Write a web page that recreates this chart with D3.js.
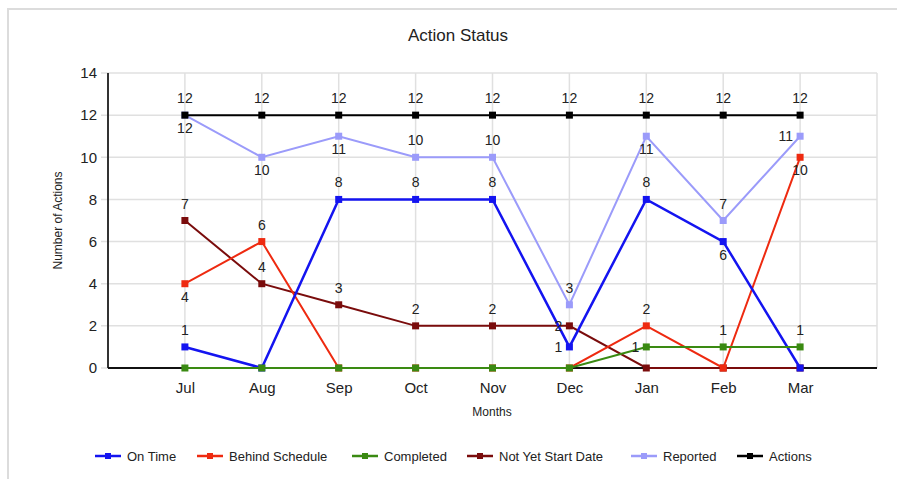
<!DOCTYPE html>
<html>
<head>
<meta charset="utf-8">
<script src="https://cdn.jsdelivr.net/npm/d3@7"></script>
<style>
  body { margin: 0; background: #fff; font-family: "Liberation Sans", Arial, sans-serif; }
  svg text { fill: #222; }
</style>
</head>
<body>
<div id="chart"></div>
<script>
// data
var months = ['Jul', 'Aug', 'Sep', 'Oct', 'Nov', 'Dec', 'Jan', 'Feb', 'Mar'];
var yTicks = [0, 2, 4, 6, 8, 10, 12, 14];

var onTime         = [1, 0, 8, 8, 8, 1, 8, 6, 0];
var behindSchedule = [4, 6, 0, 0, 0, 0, 2, 0, 10];
var completed      = [0, 0, 0, 0, 0, 0, 1, 1, 1];
var notYetStarted  = [7, 4, 3, 2, 2, 2, 0, 0, 0];
var reported       = [12, 10, 11, 10, 10, 3, 11, 7, 11];
var actions        = [12, 12, 12, 12, 12, 12, 12, 12, 12];

// where each data label sits: t = above, b = below, l = left
var onTimeLabels    = ['t', '', 't', 't', 't', 'l', 't', 'b', ''];
var behindLabels    = ['b', 't', '', '', '', '', 't', '', 'b'];
var completedLabels = ['', '', '', '', '', '', 'l', 't', 't'];
var notYetLabels    = ['t', 't', 't', 't', 't', 'l', '', '', ''];
var reportedLabels  = ['b', 'b', 'b', 't', 't', 't', 'b', 't', 'l'];
var actionsLabels   = ['t', 't', 't', 't', 't', 't', 't', 't', 't'];

var series = [
    {name: 'On Time', values: onTime, labels: onTimeLabels, color: '#1414f0', width: 2.5},
    {name: 'Behind Schedule', values: behindSchedule, labels: behindLabels, color: '#ee2a10', width: 2},
    {name: 'Completed', values: completed, labels: completedLabels, color: '#3a8a12', width: 2},
    {name: 'Not Yet Start Date', values: notYetStarted, labels: notYetLabels, color: '#7a0c0c', width: 2},
    {name: 'Reported', values: reported, labels: reportedLabels, color: '#9b9bfa', width: 2},
    {name: 'Actions', values: actions, labels: actionsLabels, color: '#000000', width: 2}
];
// draw order: the reference puts the flat/low lines underneath
var drawOrder = ['Reported', 'Not Yet Start Date', 'Behind Schedule', 'On Time', 'Completed', 'Actions'];

var W = 897, H = 479;
var margin = {top: 73, right: 20, bottom: 111, left: 108};
var width = W - margin.left - margin.right,
    height = H - margin.top - margin.bottom;

var svg = d3.select('#chart').append('svg')
    .attr('width', W)
    .attr('height', H);

// outer frame (only top and left edges are visible in the crop)
svg.append('path')
    .attr('d', 'M8,' + H + 'V9H' + W)
    .attr('fill', 'none')
    .attr('stroke', '#dcdcdc')
    .attr('stroke-width', 2);

svg.append('text')
    .attr('x', 458)
    .attr('y', 41)
    .attr('text-anchor', 'middle')
    .attr('font-size', '17px')
    .text('Action Status');

var g = svg.append('g')
    .attr('transform', 'translate(' + margin.left + ',' + margin.top + ')');

var x = d3.scaleLinear()
    .domain([-1, months.length])
    .range([0, width]);

var y = d3.scaleLinear()
    .domain([0, 14])
    .range([height, 0]);

// grid
g.append('g')
    .selectAll('line')
    .data(yTicks)
    .enter().append('line')
    .attr('x1', -7)
    .attr('x2', width)
    .attr('y1', d => y(d))
    .attr('y2', d => y(d))
    .attr('stroke', '#e0e0e0')
    .attr('stroke-width', 1.5);

g.append('g')
    .selectAll('line')
    .data(d3.range(months.length + 1))
    .enter().append('line')
    .attr('x1', d => x(d))
    .attr('x2', d => x(d))
    .attr('y1', 0)
    .attr('y2', height)
    .attr('stroke', '#e0e0e0')
    .attr('stroke-width', 1.5);

// axes
var axisY = g.append('g')
    .call(d3.axisLeft(y).tickValues(yTicks).tickSize(0).tickPadding(11));
axisY.select('.domain').remove();
axisY.selectAll('text')
    .attr('font-size', '15px')
    .attr('font-family', '"Liberation Sans", Arial, sans-serif')
    .attr('fill', '#222');

var axisX = g.append('g')
    .attr('transform', 'translate(0,' + height + ')')
    .call(d3.axisBottom(x).tickValues(d3.range(months.length))
        .tickFormat(i => months[i]).tickSize(0).tickPadding(14));
axisX.select('.domain').remove();
axisX.selectAll('text')
    .attr('font-size', '15px')
    .attr('font-family', '"Liberation Sans", Arial, sans-serif')
    .attr('fill', '#222');

g.append('line')
    .attr('x1', 0).attr('x2', 0)
    .attr('y1', 0).attr('y2', height)
    .attr('stroke', '#333')
    .attr('stroke-width', 2);
g.append('line')
    .attr('x1', 0).attr('x2', width)
    .attr('y1', height).attr('y2', height)
    .attr('stroke', '#111')
    .attr('stroke-width', 2);

svg.append('text')
    .attr('x', 492)
    .attr('y', 416)
    .attr('text-anchor', 'middle')
    .attr('font-size', '12px')
    .text('Months');

svg.append('text')
    .attr('transform', 'translate(62,' + (margin.top + height / 2) + ') rotate(-90)')
    .attr('text-anchor', 'middle')
    .attr('font-size', '12px')
    .text('Number of Actions');

// lines and markers
var line = d3.line()
    .x((d, i) => x(i))
    .y(d => y(d));

var ordered = drawOrder.map(n => series.find(s => s.name === n));

var sg = g.selectAll('.series')
    .data(ordered)
    .enter().append('g')
    .attr('class', 'series');

sg.append('path')
    .attr('fill', 'none')
    .attr('stroke', d => d.color)
    .attr('stroke-width', d => d.width)
    .attr('d', d => line(d.values));

sg.selectAll('rect')
    .data(d => d.values.map((v, i) => ({v: v, i: i, color: d.color})))
    .enter().append('rect')
    .attr('x', d => x(d.i) - 3.5)
    .attr('y', d => y(d.v) - 3.5)
    .attr('width', 7)
    .attr('height', 7)
    .attr('fill', d => d.color);

// data labels
var labelData = [];
series.forEach(s => {
    s.values.forEach((v, i) => {
        if (s.labels[i]) labelData.push({v: v, i: i, pos: s.labels[i]});
    });
});

g.selectAll('.dlabel')
    .data(labelData)
    .enter().append('text')
    .attr('class', 'dlabel')
    .attr('font-size', '14px')
    .attr('text-anchor', d => d.pos === 'l' ? 'end' : 'middle')
    .attr('x', d => d.pos === 'l' ? x(d.i) - 7 : x(d.i))
    .attr('y', d => {
        if (d.pos === 't') return y(d.v) - 12;
        if (d.pos === 'b') return y(d.v) + 18;
        return y(d.v) + 5;
    })
    .text(d => d.v);

// legend
var legendX = [95, 197, 352, 467, 631, 737];
var legend = svg.append('g')
    .selectAll('g')
    .data(series)
    .enter().append('g')
    .attr('transform', (d, i) => 'translate(' + legendX[i] + ',456)');

legend.append('line')
    .attr('x1', 0).attr('x2', 26)
    .attr('stroke', d => d.color)
    .attr('stroke-width', 2.5);
legend.append('rect')
    .attr('x', 10).attr('y', -3)
    .attr('width', 6).attr('height', 6)
    .attr('fill', d => d.color);
legend.append('text')
    .attr('x', 32)
    .attr('y', 5)
    .attr('font-size', '13px')
    .text(d => d.name);
</script>
</body>
</html>
